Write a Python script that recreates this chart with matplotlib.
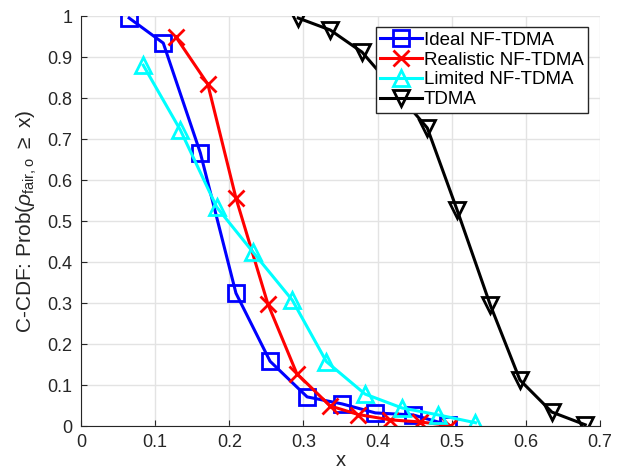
import matplotlib.pyplot as plt

# data
ideal_x = [0.065, 0.111, 0.161, 0.209, 0.255, 0.305, 0.352, 0.397, 0.448, 0.495]
ideal_y = [0.995, 0.934, 0.666, 0.324, 0.158, 0.071, 0.054, 0.032, 0.027, 0.003]

real_x = [0.128, 0.171, 0.209, 0.252, 0.291, 0.336, 0.374, 0.417, 0.457, 0.498]
real_y = [0.949, 0.834, 0.556, 0.298, 0.128, 0.049, 0.028, 0.015, 0.010, 0.001]

lim_x = [0.084, 0.134, 0.183, 0.232, 0.285, 0.331, 0.383, 0.433, 0.482, 0.532]
lim_y = [0.880, 0.722, 0.534, 0.424, 0.307, 0.157, 0.078, 0.044, 0.027, 0.008]

tdma_x = [0.293, 0.336, 0.379, 0.423, 0.467, 0.507, 0.552, 0.592, 0.635, 0.680]
tdma_y = [0.995, 0.966, 0.912, 0.820, 0.727, 0.528, 0.295, 0.112, 0.034, 0.003]

plt.rcParams['font.family'] = ['Liberation Sans', 'DejaVu Sans']
plt.rcParams['mathtext.fontset'] = 'custom'
plt.rcParams['mathtext.rm'] = 'Liberation Sans'
plt.rcParams['mathtext.it'] = 'Liberation Sans:italic'

fig = plt.figure(figsize=(6.18, 4.71), dpi=100)
ax = fig.add_axes([0.131, 0.0955, 0.84, 0.8705])

style = dict(linewidth=2.2, markersize=11, markeredgewidth=2, markerfacecolor='none')
ax.plot(ideal_x, ideal_y, 's-', color='#0000ff', label='Ideal NF-TDMA', **style)
ax.plot(real_x, real_y, 'x-', color='#ff0000', label='Realistic NF-TDMA', **style)
ax.plot(lim_x, lim_y, '^-', color='#00ffff', label='Limited NF-TDMA', **style)
ax.plot(tdma_x, tdma_y, 'v-', color='black', label='TDMA', **style)

ax.set_xlim(0, 0.7)
ax.set_ylim(0, 1)
ax.set_xticks([0, 0.1, 0.2, 0.3, 0.4, 0.5, 0.6, 0.7])
ax.set_xticklabels(['0', '0.1', '0.2', '0.3', '0.4', '0.5', '0.6', '0.7'])
ax.set_yticks([0, 0.1, 0.2, 0.3, 0.4, 0.5, 0.6, 0.7, 0.8, 0.9, 1])
ax.set_yticklabels(['0', '0.1', '0.2', '0.3', '0.4', '0.5', '0.6', '0.7', '0.8', '0.9', '1'])
ax.grid(True, color='#e3e3e3', linewidth=1)
ax.set_axisbelow(True)
ax.tick_params(direction='in', labelsize=13, colors='#262626', length=4, pad=6)
for s in ['top', 'right']:
    ax.spines[s].set_visible(False)
for s in ['left', 'bottom']:
    ax.spines[s].set_color('#262626')

ax.set_xlabel('x', fontsize=14.5, color='#262626', labelpad=0)
ax.set_ylabel(r'C-CDF: Prob($\rho_{\mathrm{fair,o}}$ $\geq$ x)', fontsize=15,
              color='#262626', labelpad=6)

leg = ax.legend(loc='upper right', bbox_to_anchor=(0.977, 0.973), fontsize=13.5,
                fancybox=False, framealpha=1, edgecolor='#262626',
                borderpad=0.25, labelspacing=0.14, handlelength=2.2,
                handletextpad=0.1, borderaxespad=0)
leg.set_zorder(10)
leg.get_frame().set_linewidth(1)

plt.savefig('out.png', dpi=100)
